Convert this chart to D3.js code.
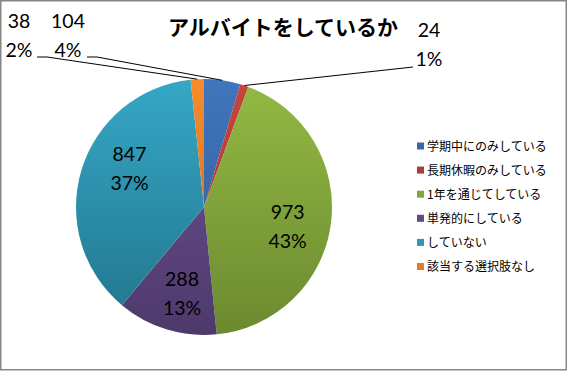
<!DOCTYPE html>
<html>
<head>
<meta charset="utf-8">
<script src="https://cdn.jsdelivr.net/npm/d3@7"></script>
<style>
  body { margin: 0; background: #fff; }
  svg { display: block; }
  .val { font-family: Lato, "Open Sans", sans-serif; font-size: 19.5px; fill: #000; }
  .legend text { font-family: "Noto Sans CJK JP", sans-serif; font-size: 12px; fill: #000; }
</style>
</head>
<body>
<div id="chart"></div>
<script>
var svgWidth = 568;
var svgHeight = 371;

var title = "アルバイトをしているか";
var categories = ["学期中にのみしている", "長期休暇のみしている", "1年を通じてしている", "単発的にしている", "していない", "該当する選択肢なし"];
var counts = [104, 24, 973, 288, 847, 38];
var percentLabels = ["4%", "1%", "43%", "13%", "37%", "2%"];
var topColors = ["#4175bd", "#c7463f", "#93b944", "#6d5494", "#35a7c6", "#f68b2c"];
var bottomColors = ["#2f5a94", "#9c302c", "#6b8a2f", "#4e396c", "#22748b", "#c86a1a"];
var legendColors = ["#3b67a8", "#b03a36", "#82a53c", "#5f4987", "#2d98b5", "#e47c25"];

var cx = 204, cy = 207, radius = 128;

var svg = d3.select("#chart")
  .append("svg")
  .attr("width", svgWidth)
  .attr("height", svgHeight);

// chart border
svg.append("rect")
  .attr("x", 0.75).attr("y", 0.75)
  .attr("width", svgWidth - 2.5).attr("height", svgHeight - 2)
  .attr("fill", "#fff")
  .attr("stroke", "#868686")
  .attr("stroke-width", 1.5);

// gradients, one per slice, top of pie to bottom (pie group coords)
var defs = svg.append("defs");
categories.forEach(function(c, i) {
  var g = defs.append("linearGradient")
    .attr("id", "grad" + i)
    .attr("gradientUnits", "userSpaceOnUse")
    .attr("x1", 0).attr("y1", -radius)
    .attr("x2", 0).attr("y2", radius);
  g.append("stop").attr("offset", "0%").attr("stop-color", topColors[i]);
  g.append("stop").attr("offset", "100%").attr("stop-color", bottomColors[i]);
});

svg.append("text")
  .attr("x", 283)
  .attr("y", 35)
  .attr("text-anchor", "middle")
  .style("font-family", "'Noto Sans CJK JP', sans-serif")
  .style("font-weight", "bold")
  .style("font-size", "21px")
  .text(title);

var data = categories.map(function(c, i) {
  return { name: c, value: counts[i], pct: percentLabels[i], idx: i };
});

var pie = d3.pie().sort(null).value(function(d) { return d.value; });
var arcs = pie(data);

var arc = d3.arc().innerRadius(0).outerRadius(radius);
var labelArc = d3.arc().innerRadius(radius * 0.69).outerRadius(radius * 0.69);

var pieGroup = svg.append("g")
  .attr("transform", `translate(${cx}, ${cy})`);

pieGroup.selectAll("path")
  .data(arcs)
  .enter()
  .append("path")
  .attr("d", arc)
  .attr("fill", function(d) { return "url(#grad" + d.data.idx + ")"; });

// inside labels for big slices (Excel's best fit nudges the aqua one up)
var nudge = { 2: [-4, 8], 3: [4, 2], 4: [10, -13] };
var bigOnes = arcs.filter(function(d) { return d.data.value > 200; });
var inside = pieGroup.selectAll(".inside")
  .data(bigOnes)
  .enter()
  .append("g")
  .attr("class", "inside")
  .attr("transform", function(d) {
    var c = labelArc.centroid(d);
    var n = nudge[d.data.idx] || [0, 0];
    return `translate(${c[0] + n[0]}, ${c[1] + n[1]})`;
  });
inside.append("text").attr("class", "val")
  .attr("text-anchor", "middle").attr("y", -7)
  .text(function(d) { return d.data.value; });
inside.append("text").attr("class", "val")
  .attr("text-anchor", "middle").attr("y", 22)
  .text(function(d) { return d.data.pct; });

// outside labels for the small slices, with leader lines
var outsidePos = { 0: [68, 28], 1: [429, 37], 5: [19, 28] };
var leaderStart = { 0: [87, 57], 1: [413, 67], 5: [37, 57] };
arcs.filter(function(d) { return d.data.value < 200; }).forEach(function(d) {
  var i = d.data.idx;
  var mid = (d.startAngle + d.endAngle) / 2;
  var ex = cx + radius * Math.sin(mid);
  var ey = cy - radius * Math.cos(mid);
  var s = leaderStart[i];
  svg.append("polyline")
    .attr("points", `${s[0]},${s[1]} ${i === 1 ? s[0] : s[0] + 10},${s[1]} ${ex},${ey}`)
    .attr("fill", "none")
    .attr("stroke", "#000")
    .attr("stroke-width", 1);
  var p = outsidePos[i];
  svg.append("text").attr("class", "val")
    .attr("x", p[0]).attr("y", p[1]).attr("text-anchor", "middle")
    .text(d.data.value);
  svg.append("text").attr("class", "val")
    .attr("x", p[0]).attr("y", p[1] + 29).attr("text-anchor", "middle")
    .text(d.data.pct);
});

// legend
var legend = svg.append("g").attr("class", "legend")
  .attr("transform", "translate(417, 146)");
var rows = legend.selectAll("g")
  .data(categories)
  .enter()
  .append("g")
  .attr("transform", function(d, i) { return `translate(0, ${i * 24.1})`; });
rows.append("rect")
  .attr("x", 0).attr("y", -3.5)
  .attr("width", 7).attr("height", 7)
  .attr("fill", function(d, i) { return legendColors[i]; });
rows.append("text")
  .attr("x", 10).attr("y", 4.5)
  .text(function(d) { return d; });
</script>
</body>
</html>
